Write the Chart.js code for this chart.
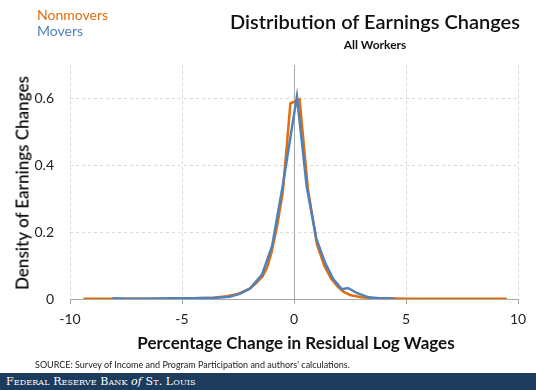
<!DOCTYPE html>
<html>
<head>
<meta charset="utf-8">
<script src="https://cdn.jsdelivr.net/npm/chart.js@4.4.1/dist/chart.umd.min.js"></script>
<style>
  body { margin: 0; background: #fff; font-family: Lato, "Open Sans", sans-serif; }
  #wrap { position: relative; width: 536px; height: 390px; overflow: hidden; }
  #chartBox { position: absolute; left: 0; top: 0; width: 536px; height: 360px; }
  .txt { position: absolute; white-space: nowrap; }
  #legend1 { left: 37px; top: 6px; font-size: 14px; color: #E46C0A; }
  #legend2 { left: 37px; top: 22px; font-size: 14px; color: #4F81BD; }
  #title { left: 228px; width: 294px; text-align: center; top: 9px; font-size: 20px; font-weight: 600; color: #111; }
  #subtitle { left: 228px; width: 294px; text-align: center; top: 37px; font-size: 12px; font-weight: bold; color: #111; }
  #xTitle { left: 0; width: 592px; text-align: center; top: 332px; font-size: 17px; font-weight: bold; color: #111; }
  #yTitle { left: 22px; top: 183px; font-size: 17px; font-weight: 600; color: #111;
            transform: translate(-50%, -50%) rotate(-90deg); }
  #source { left: 35px; top: 359px; font-size: 9px; color: #222; }
  #footer { position: absolute; left: 0; top: 373px; width: 536px; height: 17px; background: #1D3B5C; }
  #footer span { position: absolute; left: 6px; top: 2px; font-family: "DejaVu Serif", "Liberation Serif", serif;
                 font-variant: small-caps; font-size: 11px; color: #fff; letter-spacing: 0.1px; }
</style>
</head>
<body>
<div id="wrap">
  <div id="chartBox"><canvas id="chart" width="536" height="360"></canvas></div>
  <div class="txt" id="legend1">Nonmovers</div>
  <div class="txt" id="legend2">Movers</div>
  <div class="txt" id="title">Distribution of Earnings Changes</div>
  <div class="txt" id="subtitle">All Workers</div>
  <div class="txt" id="xTitle">Percentage Change in Residual Log Wages</div>
  <div class="txt" id="yTitle">Density of Earnings Changes</div>
  <div class="txt" id="source">SOURCE: Survey of Income and Program Participation and authors' calculations.</div>
  <div id="footer"><span>Federal Reserve Bank <i style="font-variant:normal">of</i> St. Louis</span></div>
</div>
<script>
// values
const nonmoversX = [-9.4, -8.5, -7.5, -6.5, -5.5, -4.5, -3.6, -3.0, -2.5, -2.0, -1.7, -1.4, -1.2, -1.0, -0.75, -0.5, -0.16, 0.25, 0.62, 1.02, 1.35, 1.65, 1.92, 2.2, 2.5, 3.0, 3.5, 4.2, 5.0, 6.0, 7.0, 8.0, 9.5];
const nonmoversY = [0.001, 0.001, 0.001, 0.001, 0.001, 0.002, 0.004, 0.008, 0.015, 0.030, 0.047, 0.068, 0.095, 0.14, 0.22, 0.32, 0.585, 0.597, 0.33, 0.165, 0.10, 0.062, 0.039, 0.022, 0.012, 0.005, 0.003, 0.002, 0.001, 0.001, 0.001, 0.001, 0.001];

const moversX = [-8.1, -7.5, -6.5, -5.5, -4.5, -3.5, -2.87, -2.4, -1.95, -1.42, -0.98, -0.5, 0.13, 0.57, 1.0, 1.39, 1.75, 2.14, 2.41, 2.8, 3.33, 3.8, 4.5];
const moversY = [0.002, 0.001, 0.001, 0.002, 0.002, 0.004, 0.007, 0.016, 0.032, 0.074, 0.158, 0.34, 0.606, 0.335, 0.18, 0.108, 0.06, 0.029, 0.033, 0.018, 0.005, 0.002, 0.001];

const xTicks = [-10, -5, 0, 5, 10];
const yTicks = [0, 0.2, 0.4, 0.6];

const toPoints = (xs, ys) => xs.map((x, i) => ({ x: x, y: ys[i] }));

const ctx = document.getElementById("chart").getContext("2d");
new Chart(ctx, {
  type: "scatter",
  data: {
    datasets: [
      {
        label: "Movers",
        data: toPoints(moversX, moversY),
        borderColor: "#4F81BD",
        borderWidth: 2.5,
      },
      {
        label: "Nonmovers",
        data: toPoints(nonmoversX, nonmoversY),
        borderColor: "#E46C0A",
        borderWidth: 2.5,
      },
    ],
  },
  options: {
    responsive: false,
    animation: false,
    showLine: true,
    elements: { point: { radius: 0 }, line: { tension: 0 } },
    layout: { padding: { top: 65, right: 18, left: 0, bottom: 0 } },
    plugins: { legend: { display: false }, tooltip: { enabled: false } },
    scales: {
      x: {
        type: "linear",
        min: -10,
        max: 10,
        afterBuildTicks: (s) => { s.ticks = xTicks.map((v) => ({ value: v })); },
        afterFit: (s) => { s.height = 61; },
        ticks: { color: "#222", font: { family: "Lato", size: 14 }, padding: 7, maxRotation: 0 },
        grid: {
          color: (c) => (c.tick && c.tick.value === 0 ? "#a6a6a6" : "#d9d9d9"),
          lineWidth: 1,
          tickLength: 5,
          tickColor: "#a6a6a6",
        },
        border: {
          display: true,
          color: "#a6a6a6",
          dash: (c) => (c.tick && c.tick.value === 0 ? [] : [3, 3]),
        },
      },
      y: {
        min: 0,
        max: 0.7,
        afterBuildTicks: (s) => { s.ticks = yTicks.map((v) => ({ value: v })); },
        afterFit: (s) => { s.width = 70; },
        ticks: { color: "#222", font: { family: "Lato", size: 14 }, padding: 16 },
        grid: {
          color: (c) => (c.tick && c.tick.value === 0 ? "#a6a6a6" : "#d9d9d9"),
          drawTicks: false,
        },
        border: {
          display: false,
          dash: (c) => (c.tick && c.tick.value === 0 ? [] : [3, 3]),
        },
      },
    },
  },
});
</script>
</body>
</html>
